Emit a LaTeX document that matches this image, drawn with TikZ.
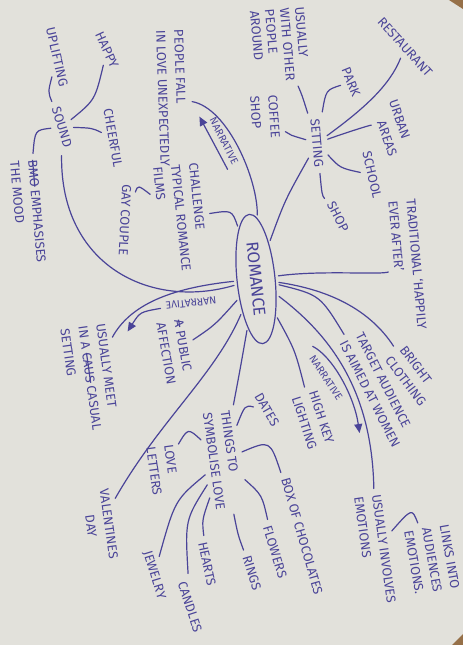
\documentclass[tikz,border=0pt]{standalone}
\usepackage{fontspec}
\setmainfont{Fira Sans}
\usetikzlibrary{shapes.geometric, arrows.meta, positioning}

\definecolor{ink}{RGB}{74,68,152}
\definecolor{paper}{RGB}{226,225,219}
\definecolor{desk}{RGB}{150,112,72}

\newcommand{\struck}[1]{\setbox0\hbox{#1}\rlap{\rule[0.3em]{\wd0}{0.6pt}}#1}

\begin{document}
\begin{tikzpicture}[
    x=0.5pt, y=-0.5pt,
    hub/.style={ellipse, draw=ink, line width=0.6pt, text=ink, font=\fontsize{8.5}{10}\selectfont, minimum width=65pt, minimum height=19pt, inner sep=0pt},
    word/.style={text=ink, font=\fontsize{6.5}{9}\selectfont, align=left, inner sep=1.5pt},
    note/.style={text=ink, font=\fontsize{5.2}{6}\selectfont, inner sep=1pt},
    link/.style={draw=ink, line width=0.6pt, line cap=round, shorten <=1.5pt, shorten >=1.5pt},
    arrow/.style={link, -{Triangle[length=4.5pt, width=4pt]}}
]

    % Paper
    \fill[paper] (0,0) rectangle (463,645);
    \useasboundingbox (0,0) rectangle (463,645);
    \fill[desk] (449,0) -- (463,0) -- (463,9) -- cycle;
    \fill[desk] (452,645) -- (463,634) -- (463,645) -- cycle;

    % Centre
    \node[hub, rotate=-84] (romance) at (256,279) {ROMANCE};

    % Setting
    \node[word, rotate=-85] (setting) at (317,143) {SETTING};
    \node[word, rotate=-48] (restaurant) at (405,47) {RESTAURANT};
    \node[word, rotate=-68] (park) at (351,82) {PARK};
    \node[word, rotate=-71] (urban) at (393,128) {URBAN\\\hspace*{8pt}AREAS};
    \node[word, rotate=-77] (school) at (372,175) {SCHOOL};
    \node[word, rotate=-63] (shop) at (338,217) {SHOP};
    \node[word, rotate=-85, font=\fontsize{6.5}{7.5}\selectfont] (others) at (280,45) {USUALLY\\WITH OTHER\\PEOPLE\\AROUND};
    \node[word, rotate=-86] (coffee) at (265,117) {COFFEE\\SHOP};

    % Left side
    \node[word, rotate=-88] (fall) at (172,98) {PEOPLE FALL\\IN LOVE UNEXPECTEDLY};
    \node[note, rotate=-63] (narr1) at (224,141) {NARRATIVE};
    \node[word, rotate=-84] (films) at (181,218) {CHALLENGE\\TYPICAL ROMANCE\\FILMS};
    \node[word, rotate=-93] (gay) at (125,220) {GAY COUPLE};
    \node[word, rotate=-73] (sound) at (62,127) {SOUND};
    \node[word, rotate=-65] (happy) at (107,50) {HAPPY};
    \node[word, rotate=-77] (uplifting) at (57,57) {UPLIFTING};
    \node[word, rotate=-80] (cheerful) at (113,138) {CHEERFUL};
    \node[word, rotate=-85] (mood) at (28,212) {\struck{BMO} EMPHASISES\\THE MOOD};
    \node[word, rotate=-82] (meet) at (90,378) {USUALLY MEET\\IN A \struck{CAUS} CASUAL\\SETTING};
    \node[note, rotate=-174] (narr2) at (191,303) {NARRATIVE};
    \node[word, rotate=-80] (public) at (175,352) {\struck{A} PUBLIC\\AFFECTION};

    % Bottom
    \node[word, rotate=-82] (things) at (223,460) {THINGS TO\\SYMBOLISE LOVE};
    \node[word, rotate=-82, align=center] (valentines) at (100,525) {VALENTINES\\DAY};
    \node[word, rotate=-82] (letters) at (163,470) {LOVE\\LETTERS};
    \node[word, rotate=-60] (dates) at (267,410) {DATES};
    \node[word, rotate=-74] (box) at (302,536) {BOX OF CHOCOLATES};
    \node[word, rotate=-73] (flowers) at (275,552) {FLOWERS};
    \node[word, rotate=-73] (rings) at (252,573) {RINGS};
    \node[word, rotate=-78] (hearts) at (207,564) {HEARTS};
    \node[word, rotate=-72] (candles) at (190,607) {CANDLES};
    \node[word, rotate=-73] (jewelry) at (154,575) {JEWELRY};

    % Right side
    \node[word, rotate=-85] (traditional) at (408,265) {TRADITIONAL `HAPPILY\\EVER AFTER'};
    \node[word, rotate=-53] (bright) at (413,376) {BRIGHT\\CLOTHING};
    \node[word, rotate=-63] (target) at (378,390) {TARGET AUDIENCE\\IS AIMED AT WOMEN};
    \node[word, rotate=-72] (highkey) at (313,420) {HIGH KEY\\LIGHTING};
    \node[note, rotate=-56] (narr3) at (326,378) {NARRATIVE};
    \node[word, rotate=-82] (emotions) at (375,550) {USUALLY INVOLVES\\EMOTIONS};
    \node[word, rotate=-80] (links) at (432,560) {LINKS INTO\\AUDIENCES\\EMOTIONS.};

    % Arrow ends
    \coordinate (a1s) at (229,172);
    \coordinate (a1e) at (198,114);
    \coordinate (a2e) at (126,334);
    \coordinate (a3s) at (310,345);
    \coordinate (a3e) at (360,436);

    % Setting links
    \draw[link] (setting) .. controls (326,90) .. (park);
    \draw[link] (setting) .. controls (365,108) and (390,85) .. (restaurant);
    \draw[link] (setting) .. controls (345,133) and (370,125) .. (urban);
    \draw[link] (setting) .. controls (340,168) .. (school);
    \draw[link] (setting) .. controls (322,195) .. (shop);
    \draw[link] (setting) .. controls (302,95) .. (others);
    \draw[link] (setting) .. controls (290,135) .. (coffee);

    % Romance links
    \draw[link] (romance) .. controls (285,200) .. (setting);
    \draw[link] (romance) .. controls (258,180) and (228,108) .. (fall);
    \draw[link] (romance) .. controls (232,210) .. (films);
    \draw[link] (romance) .. controls (150,310) and (60,265) .. (sound);
    \draw[link] (romance) .. controls (170,288) and (130,305) .. (meet);
    \draw[link] (romance) .. controls (215,325) .. (public);
    \draw[link] (romance) .. controls (215,375) and (160,420) .. (valentines);
    \draw[link] (romance) .. controls (240,370) .. (things);
    \draw[link] (romance) .. controls (320,270) and (380,275) .. (traditional);
    \draw[link] (romance) .. controls (330,290) and (370,310) .. (bright);
    \draw[link] (romance) .. controls (320,295) .. (target);
    \draw[link] (romance) .. controls (295,350) .. (highkey);
    \draw[link] (romance) .. controls (330,335) and (372,390) .. (emotions);

    % Narrative arrows
    \draw[arrow] (a1s) .. controls (212,140) .. (a1e);
    \draw[arrow] (narr2) .. controls (140,312) .. (a2e);
    \draw[arrow] (a3s) .. controls (332,356) and (354,395) .. (a3e);

    % Small links
    \draw[link] (sound) .. controls (95,100) .. (happy);
    \draw[link] (sound) .. controls (48,92) .. (uplifting);
    \draw[link] (sound) .. controls (92,128) .. (cheerful);
    \draw[link] (sound) .. controls (35,130) .. (mood);
    \draw[link] (films) .. controls (138,185) .. (gay);
    \draw[link] (things) .. controls (245,405) .. (dates);
    \draw[link] (things) .. controls (270,440) .. (box);
    \draw[link] (things) .. controls (262,495) .. (flowers);
    \draw[link] (things) .. controls (238,535) .. (rings);
    \draw[link] (things) .. controls (202,520) .. (hearts);
    \draw[link] (things) .. controls (185,520) .. (candles);
    \draw[link] (things) .. controls (175,500) .. (jewelry);
    \draw[link] (things) .. controls (188,428) .. (letters);
    \draw[link] (emotions) .. controls (412,508) .. (links);

\end{tikzpicture}
\end{document}
